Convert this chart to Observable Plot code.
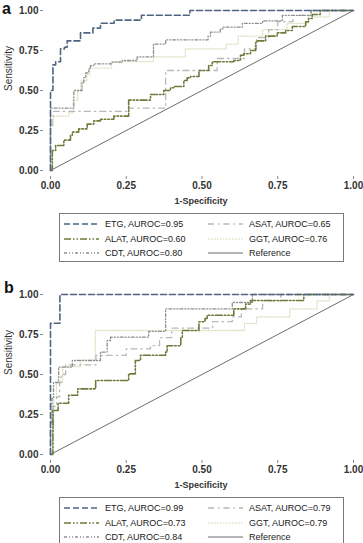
<!DOCTYPE html>
<html>
<head>
<meta charset="utf-8">
<script src="https://cdn.jsdelivr.net/npm/d3@7"></script>
<script src="https://cdn.jsdelivr.net/npm/@observablehq/plot@0.6"></script>
<style>
  html, body { margin: 0; padding: 0; background: #fff; }
  #fig { position: relative; width: 363px; height: 543px; overflow: hidden; background: #fff; font-family: "Liberation Sans", Arial, sans-serif; }
  .panel { position: absolute; left: 0; }
  .letter { position: absolute; font: bold 16px "Liberation Sans", Arial, sans-serif; line-height: normal; color: #111; }
  .legend { position: absolute; left: 59px; width: 283px; height: 47px; border: 1px solid #7a7a7a; }
  .entry { position: absolute; height: 10px; display: flex; align-items: center; font-size: 9px; color: #1a1a1a; white-space: nowrap; }
  .entry svg { margin-right: 6px; }
</style>
</head>
<body>
<div id="fig"></div>
<script>
// ROC curves, panel a: [1-specificity, sensitivity] at each step
const etgA = [[0,0],[0,0.50],[0.008,0.66],[0.017,0.68],[0.033,0.76],[0.046,0.77],[0.055,0.81],[0.099,0.86],[0.14,0.89],[0.165,0.92],[0.21,0.94],[0.30,0.97],[0.46,1.0],[1,1]];
const alatA = [[0,0],[0.006,0.125],[0.017,0.156],[0.044,0.19],[0.066,0.22],[0.072,0.24],[0.093,0.26],[0.121,0.29],[0.143,0.31],[0.165,0.32],[0.209,0.34],[0.258,0.44],[0.33,0.475],[0.374,0.50],[0.396,0.517],[0.407,0.525],[0.44,0.5625],[0.451,0.579],[0.462,0.5875],[0.49,0.625],[0.522,0.656],[0.534,0.68],[0.605,0.6875],[0.627,0.72],[0.638,0.73],[0.66,0.75],[0.677,0.80],[0.682,0.81],[0.71,0.84],[0.748,0.86],[0.776,0.875],[0.798,0.90],[0.842,0.93],[0.852,0.95],[0.864,0.975],[0.89,1.0],[1,1]];
const cdtA = [[0,0],[0,0.39],[0.077,0.50],[0.104,0.55],[0.11,0.58],[0.116,0.61],[0.126,0.635],[0.132,0.656],[0.143,0.667],[0.204,0.677],[0.237,0.6875],[0.286,0.71],[0.34,0.79],[0.38,0.817],[0.52,0.84],[0.528,0.865],[0.56,0.885],[0.57,0.896],[0.633,0.92],[0.70,0.935],[0.765,0.97],[0.86,1.0],[1,1]];
const asatA = [[0,0],[0,0.28],[0.005,0.34],[0.01,0.37],[0.26,0.39],[0.38,0.625],[0.55,0.70],[0.64,0.76],[0.68,0.83],[0.72,0.88],[0.75,0.93],[0.80,0.97],[0.86,1.0],[1,1]];
const ggtA = [[0,0],[0,0.28],[0.01,0.34],[0.06,0.36],[0.075,0.44],[0.09,0.50],[0.10,0.56],[0.12,0.60],[0.13,0.64],[0.20,0.68],[0.34,0.71],[0.445,0.76],[0.58,0.79],[0.62,0.84],[0.70,0.88],[0.78,0.92],[0.85,0.96],[0.92,1.0],[1,1]];

// ROC curves, panel b
const etgB = [[0,0],[0,0.82],[0.031,1.0],[1,1]];
const alatB = [[0,0],[0.008,0.275],[0.025,0.32],[0.06,0.37],[0.09,0.41],[0.149,0.4625],[0.258,0.504],[0.28,0.5875],[0.297,0.62],[0.38,0.64],[0.385,0.68],[0.43,0.73],[0.435,0.775],[0.49,0.83],[0.51,0.85],[0.517,0.87],[0.605,0.91],[0.644,0.94],[0.66,0.9625],[0.836,1.0],[1,1]];
const cdtB = [[0,0],[0,0.2],[0.005,0.35],[0.01,0.45],[0.027,0.546],[0.072,0.5875],[0.165,0.64],[0.187,0.7125],[0.198,0.733],[0.324,0.77],[0.38,0.91],[0.6,0.95],[0.666,1.0],[1,1]];
const asatB = [[0,0],[0,0.15],[0.01,0.30],[0.02,0.36],[0.03,0.45],[0.035,0.5],[0.05,0.56],[0.15,0.62],[0.25,0.66],[0.33,0.68],[0.36,0.73],[0.40,0.79],[0.535,0.83],[0.60,0.86],[0.63,0.91],[0.70,0.96],[0.76,1.0],[1,1]];
const ggtB = [[0,0],[0,0.2],[0.01,0.36],[0.02,0.45],[0.04,0.55],[0.10,0.59],[0.148,0.775],[0.64,0.82],[0.68,0.86],[0.79,0.91],[0.88,0.96],[0.92,1.0],[1,1]];

// chance diagonal
const reference = [[0,0],[1,1]];

// legend labels
const aurocA = {ETG: "0.95", ASAT: "0.65", ALAT: "0.60", GGT: "0.76", CDT: "0.80"};
const aurocB = {ETG: "0.99", ASAT: "0.79", ALAT: "0.73", GGT: "0.79", CDT: "0.84"};
const tickValues = [0, 0.25, 0.5, 0.75, 1];

// line styles per marker
const styles = {
  ETG:  {stroke: "#4f6581", dash: "6,3", width: 1.6},
  ALAT: {stroke: "#6c7b3a", dash: "7,2,1.5,2,1.5,2", width: 1.6},
  CDT:  {stroke: "#8e8e8e", dash: "3,2,1,2,1,2", width: 1.3},
  ASAT: {stroke: "#b8b8b8", dash: "6,4,1.5,4", width: 1.3},
  GGT:  {stroke: "#e4e0c6", dash: "1.5,1.5", width: 1.3},
  Reference: {stroke: "#6e6e6e", dash: null, width: 1}
};

function curve(data, name) {
  const s = styles[name];
  return Plot.line(data, {
    x: d => d[0], y: d => d[1], curve: name === "Reference" ? "linear" : "step-after",
    stroke: s.stroke, strokeWidth: s.width, strokeDasharray: s.dash
  });
}

function panel(series) {
  return Plot.plot({
    width: 363, height: 210,
    marginLeft: 43, marginRight: 5, marginTop: 5, marginBottom: 34,
    style: {fontFamily: "'Liberation Sans', Arial, sans-serif", background: "transparent"},
    x: {domain: [0, 1], insetLeft: 7, insetRight: 5},
    y: {domain: [0, 1], insetTop: 5, insetBottom: 6},
    marks: [
      Plot.axisX(tickValues, {tickFormat: d3.format(".2f"), tickSize: 3, tickPadding: 2, line: true,
        stroke: "#8a8a8a", fill: "#333", fontWeight: "bold", fontSize: 10, label: null}),
      Plot.axisY(tickValues, {tickFormat: d3.format(".2f"), tickSize: 3, tickPadding: 2, line: true,
        stroke: "#8a8a8a", fill: "#333", fontWeight: "bold", fontSize: 10, label: null}),
      Plot.text(["1-Specificity"], {frameAnchor: "bottom", dy: 27, fontWeight: "bold", fontSize: 9, fill: "#333"}),
      Plot.text(["Sensitivity"], {frameAnchor: "left", dx: -35, rotate: -90, fontSize: 10, fill: "#333"}),
      curve(reference, "Reference"),
      curve(series.GGT, "GGT"),
      curve(series.ASAT, "ASAT"),
      curve(series.CDT, "CDT"),
      curve(series.ALAT, "ALAT"),
      curve(series.ETG, "ETG")
    ]
  });
}

function legend(auroc, top) {
  const box = document.createElement("div");
  box.className = "legend";
  box.style.top = top + "px";
  const layout = [
    ["ETG", 0, 0], ["ASAT", 1, 0],
    ["ALAT", 0, 1], ["GGT", 1, 1],
    ["CDT", 0, 2], ["Reference", 1, 2]
  ];
  for (const [name, col, row] of layout) {
    const s = styles[name];
    const e = document.createElement("div");
    e.className = "entry";
    e.style.left = (col ? 148 : 4) + "px";
    e.style.top = (5 + row * 14.5) + "px";
    const ns = "http://www.w3.org/2000/svg";
    const svg = document.createElementNS(ns, "svg");
    svg.setAttribute("width", 35); svg.setAttribute("height", 6);
    const ln = document.createElementNS(ns, "line");
    ln.setAttribute("x1", 0); ln.setAttribute("x2", 35);
    ln.setAttribute("y1", 3); ln.setAttribute("y2", 3);
    ln.setAttribute("stroke", s.stroke); ln.setAttribute("stroke-width", name === "Reference" ? 1.2 : 1.4);
    if (s.dash) ln.setAttribute("stroke-dasharray", s.dash);
    svg.appendChild(ln);
    e.appendChild(svg);
    const t = document.createElement("span");
    t.textContent = name === "Reference" ? "Reference" : `${name}, AUROC=${auroc[name]}`;
    e.appendChild(t);
    box.appendChild(e);
  }
  return box;
}

const fig = document.getElementById("fig");
const pa = panel({ETG: etgA, ALAT: alatA, CDT: cdtA, ASAT: asatA, GGT: ggtA});
pa.classList.add("panel"); pa.style.top = "0px";
const pb = panel({ETG: etgB, ALAT: alatB, CDT: cdtB, ASAT: asatB, GGT: ggtB});
pb.classList.add("panel"); pb.style.top = "284px";
fig.appendChild(pa);
fig.appendChild(pb);
fig.appendChild(legend(aurocA, 213));
fig.appendChild(legend(aurocB, 497));

// panel letters
const la = document.createElement("div");
la.className = "letter"; la.textContent = "a"; la.style.left = "2px"; la.style.top = "0px";
const lb = document.createElement("div");
lb.className = "letter"; lb.textContent = "b"; lb.style.left = "4px"; lb.style.top = "279px";
fig.appendChild(la);
fig.appendChild(lb);
</script>
</body>
</html>
